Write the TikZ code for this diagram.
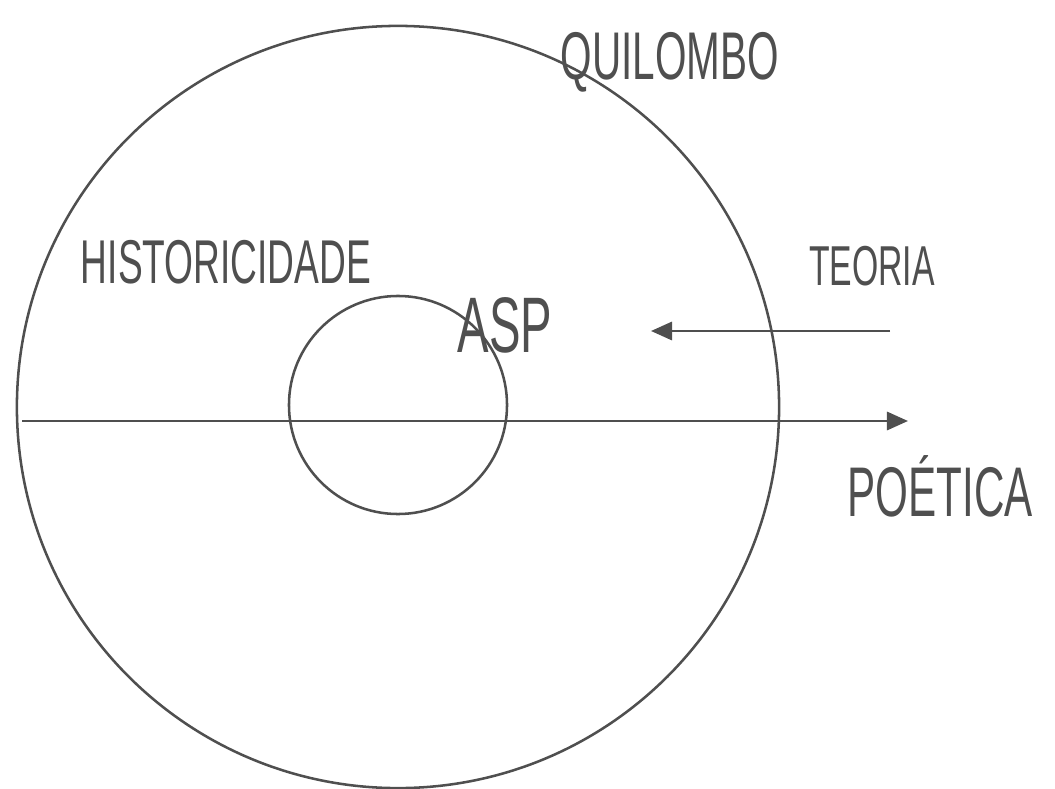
\documentclass[tikz,border=0pt]{standalone}
\usepackage{fontspec}
\usepackage{xcolor}
\usepackage{tikz}
\usetikzlibrary{arrows.meta,positioning}
\newfontfamily\handfont[FakeStretch=0.6]{Liberation Sans}
\definecolor{ink}{HTML}{4F4F4F}

\begin{document}
\begin{tikzpicture}[x=0.025cm, y=-0.025cm,
    ring/.style={circle, draw=ink, line width=1.8pt, inner sep=0pt},
    axis/.style={-{Triangle[length=15pt,width=13pt]}, draw=ink, line width=1.8pt},
    word/.style={text=ink, inner sep=0pt}
]
    \useasboundingbox (0,0) rectangle (1055,789);
    % circles
    \node[ring, minimum size=19.05cm] (quilombo) at (398, 407) {};
    \node[ring, minimum size=5.45cm] (asp) at (398, 405) {};
    % labels
    \node[word, font=\handfont\fontsize{48}{48}\selectfont] (lquilombo) at (670, 62) {QUILOMBO};
    \node[word, font=\handfont\fontsize{44}{44}\selectfont] (lhist) at (226, 262) {HISTORICIDADE};
    \node[word, font=\handfont\fontsize{56}{56}\selectfont] (lasp) at (505, 325) {ASP};
    \node[word, font=\handfont\fontsize{40}{40}\selectfont] (lteoria) at (872, 266) {TEORIA};
    \node[word, font=\handfont\fontsize{50}{50}\selectfont] (lpoetica) at (940, 486) {POÉTICA};
    % arrows
    \coordinate (poeticastart) at (22, 421);
    \coordinate (poeticaend) at (908, 421);
    \coordinate (teoriastart) at (890, 331);
    \coordinate (teoriaend) at (651, 331);
    \draw[axis] (poeticastart) -- (poeticaend);
    \draw[axis] (teoriastart) -- (teoriaend);
\end{tikzpicture}
\end{document}
